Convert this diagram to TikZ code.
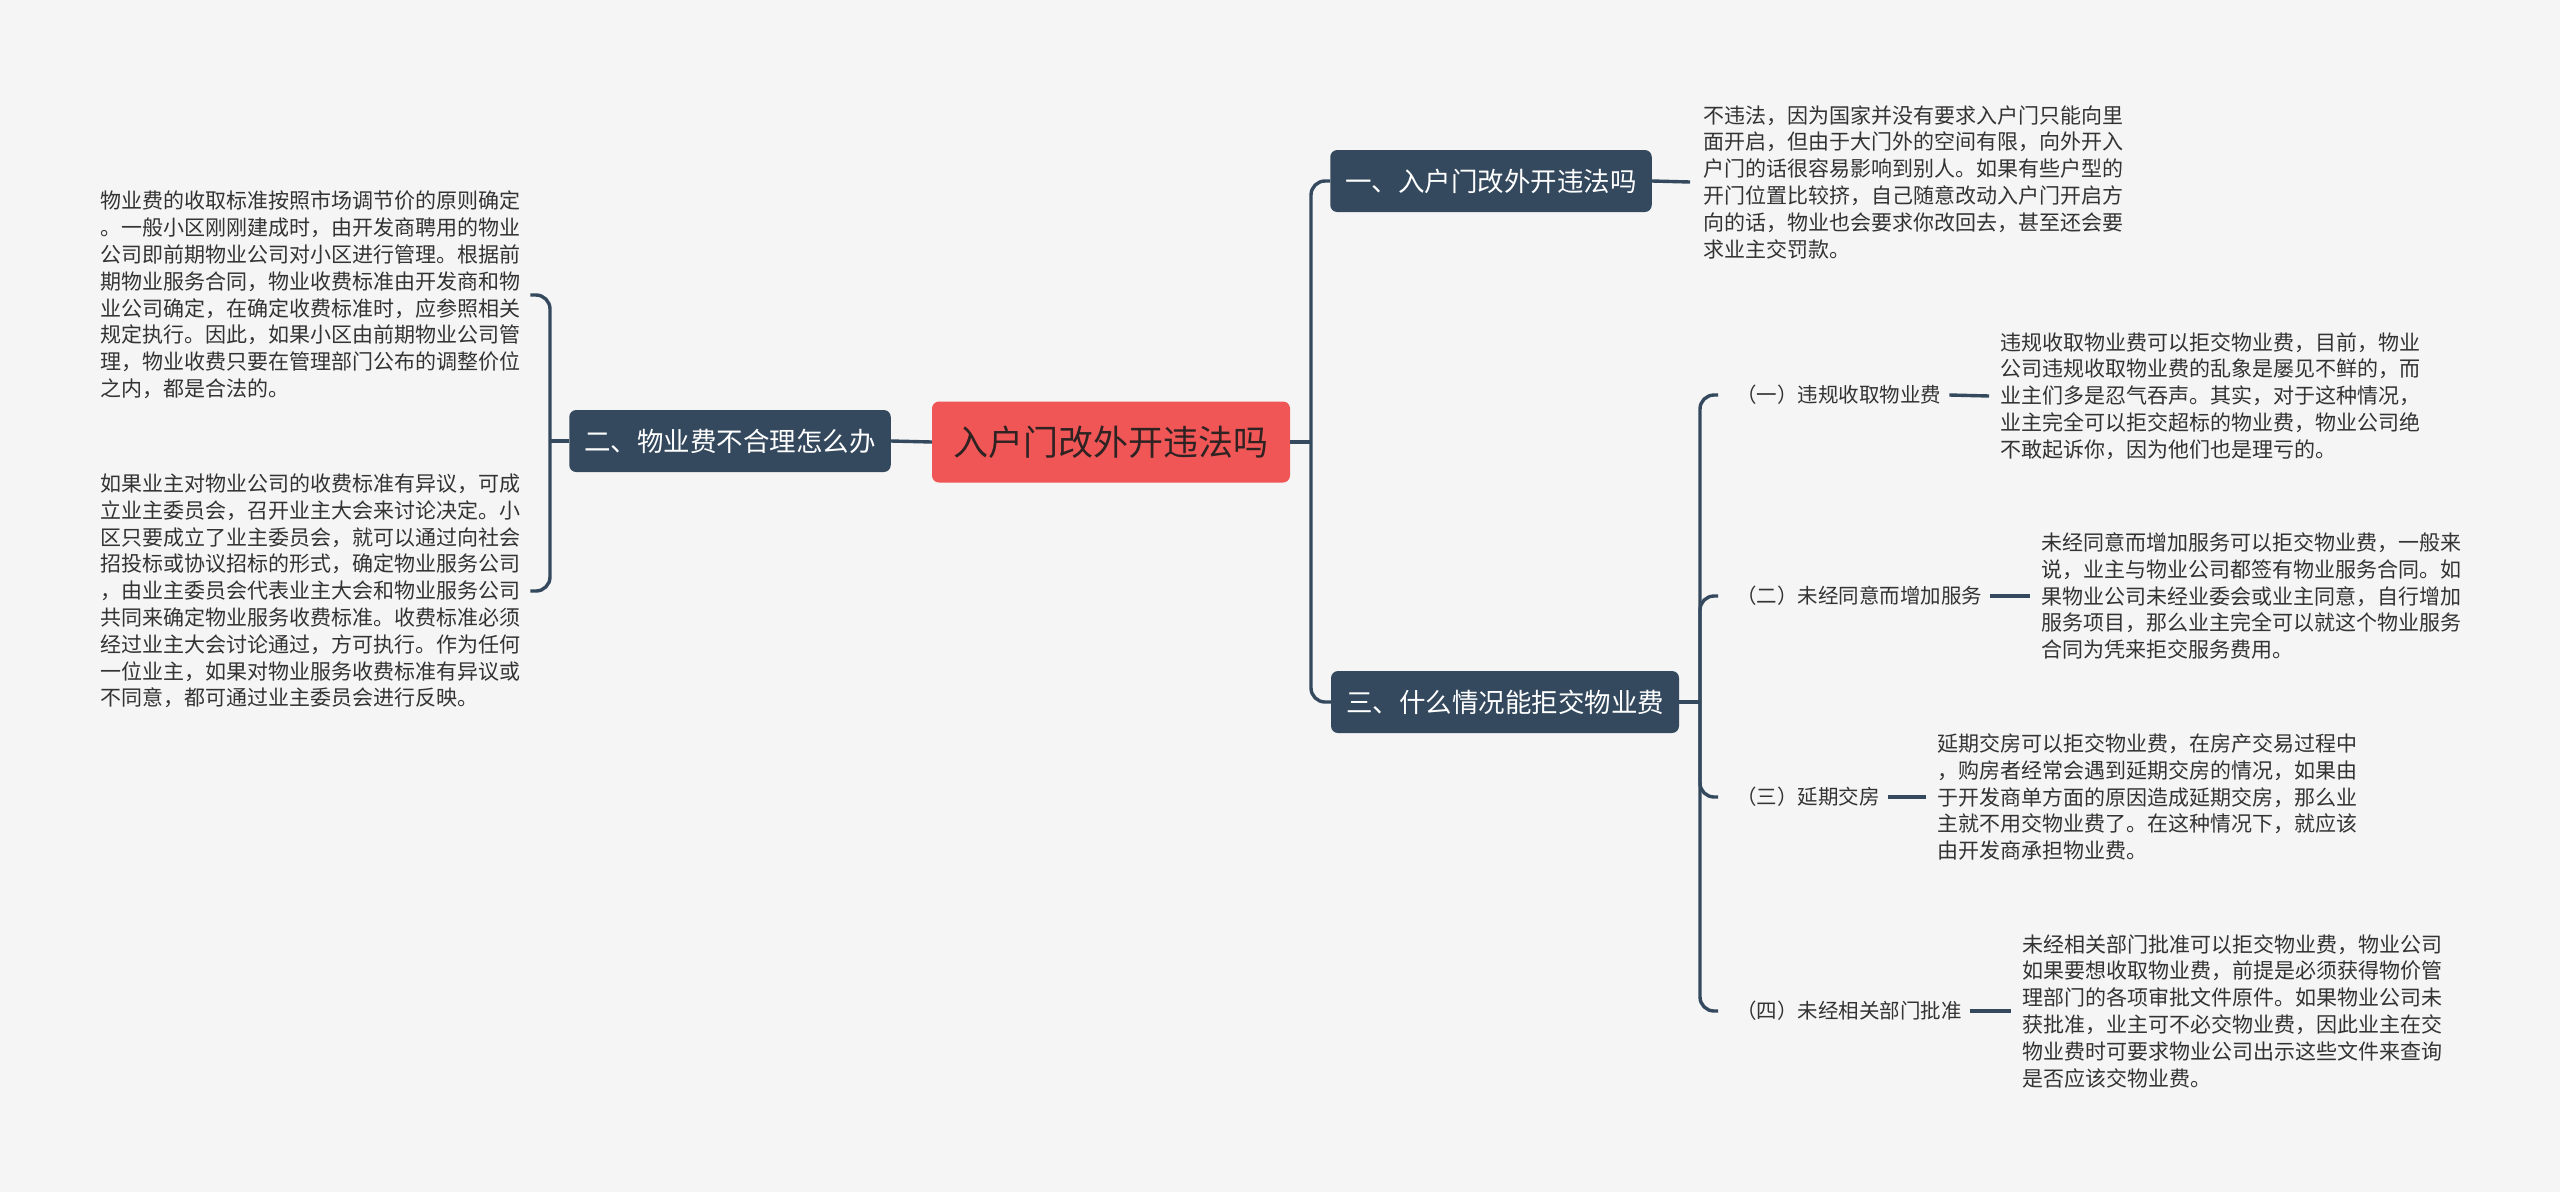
\documentclass[tikz,border=0pt]{standalone}
\usepackage{fontspec}
\setmainfont{Noto Sans CJK SC}
\definecolor{bgc}{HTML}{F5F5F5}
\definecolor{rootc}{HTML}{F05656}
\definecolor{slate}{HTML}{34495E}
\definecolor{txt}{HTML}{333333}
\definecolor{roottxt}{HTML}{2E2222}
\tikzset{
  rootbox/.style={fill=rootc, rounded corners=7pt, minimum width=358pt, minimum height=81pt, inner sep=0pt, text=roottxt, font=\fontsize{35}{40}\selectfont},
  branchbox/.style={fill=slate, rounded corners=7pt, minimum height=62pt, inner xsep=15pt, inner ysep=0pt, text=white, font=\fontsize{26.5}{30}\selectfont},
  para/.style={anchor=west, align=left, inner sep=0pt, text=txt, font=\fontsize{21}{26.8}\selectfont},
  lab/.style={anchor=west, inner sep=0pt, text=txt, font=\fontsize{20.5}{24}\selectfont},
  conn/.style={draw=slate, line width=3.4pt},
}
\begin{document}
\begin{tikzpicture}[x=1pt,y=-1pt]
\fill[bgc] (0,0) rectangle (2560,1192);
\useasboundingbox (0,0) rectangle (2560,1192);

% root and branches
\node[rootbox] (root) at (1111,442) {入户门改外开违法吗};
\node[branchbox] (b2) at (730,441) {二、物业费不合理怎么办};
\node[branchbox] (b1) at (1491,181) {一、入户门改外开违法吗};
\node[branchbox] (b3) at (1505,702) {三、什么情况能拒交物业费};

% left texts
\node[para] (lt1) at (100,295) {物业费的收取标准按照市场调节价的原则确定\\。一般小区刚刚建成时，由开发商聘用的物业\\公司即前期物业公司对小区进行管理。根据前\\期物业服务合同，物业收费标准由开发商和物\\业公司确定，在确定收费标准时，应参照相关\\规定执行。因此，如果小区由前期物业公司管\\理，物业收费只要在管理部门公布的调整价位\\之内，都是合法的。};
\node[para] (lt2) at (100,591) {如果业主对物业公司的收费标准有异议，可成\\立业主委员会，召开业主大会来讨论决定。小\\区只要成立了业主委员会，就可以通过向社会\\招投标或协议招标的形式，确定物业服务公司\\，由业主委员会代表业主大会和物业服务公司\\共同来确定物业服务收费标准。收费标准必须\\经过业主大会讨论通过，方可执行。作为任何\\一位业主，如果对物业服务收费标准有异议或\\不同意，都可通过业主委员会进行反映。};

% branch 1 text
\node[para] (t1) at (1703,182) {不违法，因为国家并没有要求入户门只能向里\\面开启，但由于大门外的空间有限，向外开入\\户门的话很容易影响到别人。如果有些户型的\\开门位置比较挤，自己随意改动入户门开启方\\向的话，物业也会要求你改回去，甚至还会要\\求业主交罚款。};

% branch 3 children
\node[lab] (c1) at (1736,395) {（一）违规收取物业费};
\node[lab] (c2) at (1736,596) {（二）未经同意而增加服务};
\node[lab] (c3) at (1736,797) {（三）延期交房};
\node[lab] (c4) at (1736,1011) {（四）未经相关部门批准};

\node[para] (l1) at (2000,396) {违规收取物业费可以拒交物业费，目前，物业\\公司违规收取物业费的乱象是屡见不鲜的，而\\业主们多是忍气吞声。其实，对于这种情况，\\业主完全可以拒交超标的物业费，物业公司绝\\不敢起诉你，因为他们也是理亏的。};
\node[para] (l2) at (2041,596) {未经同意而增加服务可以拒交物业费，一般来\\说，业主与物业公司都签有物业服务合同。如\\果物业公司未经业委会或业主同意，自行增加\\服务项目，那么业主完全可以就这个物业服务\\合同为凭来拒交服务费用。};
\node[para] (l3) at (1937,797) {延期交房可以拒交物业费，在房产交易过程中\\，购房者经常会遇到延期交房的情况，如果由\\于开发商单方面的原因造成延期交房，那么业\\主就不用交物业费了。在这种情况下，就应该\\由开发商承担物业费。};
\node[para] (l4) at (2022,1011) {未经相关部门批准可以拒交物业费，物业公司\\如果要想收取物业费，前提是必须获得物价管\\理部门的各项审批文件原件。如果物业公司未\\获批准，业主可不必交物业费，因此业主在交\\物业费时可要求物业公司出示这些文件来查询\\是否应该交物业费。};

% junctions
\coordinate (rj) at (1311,442);
\coordinate (lj) at (550,441);
\coordinate (tj) at (1700,702);

% connectors right of root
\draw[conn] (root.east) -- (rj);
\draw[conn, rounded corners=14pt] (rj) |- (b1.west);
\draw[conn, rounded corners=14pt] (rj) |- (b3.west);
\draw[conn] (b1.east) -- ([xshift=-13pt]t1.west);

% connectors left of root
\draw[conn] (root.west) -- (b2.east);
\draw[conn] (b2.west) -- (lj);
\draw[conn, rounded corners=14pt] (lj) |- ([xshift=10pt]lt1.east |- lt1.center);
\draw[conn, rounded corners=14pt] (lj) |- ([xshift=10pt]lt1.east |- lt2.center);

% branch 3 connectors
\draw[conn] (b3.east) -- (tj);
\draw[conn, rounded corners=14pt] (tj) |- ([xshift=-18pt]c1.west);
\draw[conn, rounded corners=14pt] (tj) |- ([xshift=-18pt]c2.west);
\draw[conn, rounded corners=14pt] (tj) |- ([xshift=-18pt]c3.west);
\draw[conn, rounded corners=14pt] (tj) |- ([xshift=-18pt]c4.west);

\draw[conn] ([xshift=8pt]c1.east) -- ([xshift=-11pt]l1.west);
\draw[conn] ([xshift=8pt]c2.east) -- ([xshift=-11pt]l2.west);
\draw[conn] ([xshift=8pt]c3.east) -- ([xshift=-11pt]l3.west);
\draw[conn] ([xshift=8pt]c4.east) -- ([xshift=-11pt]l4.west);
\end{tikzpicture}
\end{document}
